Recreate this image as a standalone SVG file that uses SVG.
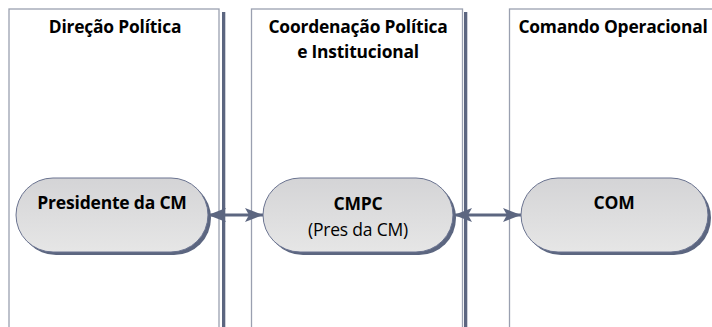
<svg xmlns="http://www.w3.org/2000/svg" width="712" height="327" viewBox="0 0 712 327">
<style>
.lane{fill:#fff;stroke:#9aa0b0;stroke-width:1.3}
.lshadow{fill:#5c6680}
.title{font-family:"Open Sans","Liberation Sans",sans-serif;font-weight:bold;font-size:17.4px;fill:#000;text-anchor:middle;letter-spacing:-0.2px}
.pill{fill:url(#g);stroke:#6a7390;stroke-width:1}
.pshadow{fill:#5c6680}
.lbl{font-family:"Open Sans","Liberation Sans",sans-serif;font-size:17.5px;fill:#000;text-anchor:middle;letter-spacing:-0.2px}
.b{font-weight:bold}
.conn{stroke:#5c6680;stroke-width:3;fill:none}
</style>
<defs>
<linearGradient id="g" x1="0" y1="0" x2="0" y2="1">
<stop offset="0" stop-color="#d4d4d6"/>
<stop offset="1" stop-color="#e6e6e6"/>
</linearGradient>
<marker id="ah" viewBox="0 0 18 14" refX="18" refY="7" markerWidth="18" markerHeight="14" markerUnits="userSpaceOnUse" orient="auto-start-reverse">
<path d="M0,0 L18,7 L0,14 L4,7 Z" fill="#5c6680"/>
</marker>
</defs>
<g id="lane1">
<rect class="lshadow" x="222" y="12" width="3.3" height="315"/>
<rect class="lane" x="9" y="9" width="210" height="330"/>
<text class="title" x="115" y="33">Direção Política</text>
</g>
<g id="lane2">
<rect class="lshadow" x="464" y="12" width="3.3" height="315"/>
<rect class="lane" x="251.5" y="9" width="211" height="330"/>
<text class="title" x="358" y="33">Coordenação Política</text>
<text class="title" x="358" y="58">e Institucional</text>
</g>
<g id="lane3">
<rect class="lane" x="509.5" y="9" width="220" height="330"/>
<text class="title" x="613" y="33">Comando Operacional</text>
</g>
<g id="connectors">
<line class="conn" x1="208" y1="215" x2="263" y2="215" marker-start="url(#ah)" marker-end="url(#ah)"/>
<line class="conn" x1="454" y1="215" x2="521" y2="215" marker-start="url(#ah)" marker-end="url(#ah)"/>
</g>
<g id="n1">
<rect class="pshadow" x="19" y="181" width="192" height="74" rx="37"/>
<rect class="pill" x="16" y="178" width="192" height="74" rx="37"/>
<text class="lbl b" x="112" y="209">Presidente da CM</text>
</g>
<g id="n2">
<rect class="pshadow" x="266" y="181" width="190" height="74" rx="37"/>
<rect class="pill" x="263" y="178" width="190" height="74" rx="37"/>
<text class="lbl b" x="358" y="210">CMPC</text>
<text class="lbl" x="358" y="236">(Pres da CM)</text>
</g>
<g id="n3">
<rect class="pshadow" x="524" y="181" width="187" height="74" rx="37"/>
<rect class="pill" x="521" y="178" width="187" height="74" rx="37"/>
<text class="lbl b" x="614" y="209">COM</text>
</g>
</svg>
